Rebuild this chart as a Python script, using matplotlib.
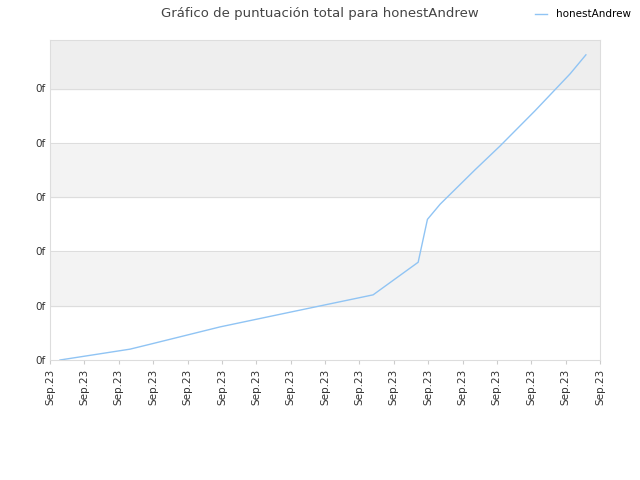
import matplotlib
matplotlib.use("Agg")
import matplotlib.pyplot as plt
from matplotlib.ticker import FuncFormatter

# values (x in tick steps, y in tick steps)
days = [0.29, 2.33, 2.91, 4.95, 6.98, 9.40, 10.71, 10.98, 11.35, 12.36, 13.09, 14.11, 15.13, 15.59]
score = [0.0, 0.2, 0.29, 0.61, 0.88, 1.20, 1.80, 2.59, 2.87, 3.50, 3.94, 4.59, 5.27, 5.62]
x_labels = ["Sep.23"] * 17
y_ticks = [0, 1, 2, 3, 4, 5]

fig = plt.figure(figsize=(6.4, 4.8), dpi=100)
ax = fig.add_axes([50 / 640, 120 / 480, 550 / 640, 320 / 480])

ymax = 320 / 54.3
band_colors = ["white", "#f3f3f3", "white", "#f3f3f3", "white", "#eeeeee"]
for i, c in enumerate(band_colors):
    ax.axhspan(i, min(i + 1, ymax), color=c, zorder=0)
for y in y_ticks[1:]:
    ax.axhline(y, color="#dddddd", lw=0.8, zorder=1)

ax.plot(days, score, color="#90c4f4", lw=1, label="honestAndrew", zorder=2)

ax.set_xlim(0, 16)
ax.set_ylim(0, ymax)
ax.set_xticks(range(17))
ax.set_xticklabels(x_labels, rotation=90, fontsize=7.5, color="#333333")
ax.set_yticks(y_ticks)
ax.yaxis.set_major_formatter(FuncFormatter(lambda v, p: "0f"))
ax.tick_params(axis="y", labelsize=7.5, colors="#333333", length=0)
ax.tick_params(axis="x", length=3, colors="#cccccc", labelcolor="#333333")
for s in ax.spines.values():
    s.set_color("#dddddd")

fig.suptitle("Gráfico de puntuación total para honestAndrew", x=0.5, y=0.985,
             fontsize=9.5, color="#444444")
fig.legend(loc="upper right", bbox_to_anchor=(1.0, 1.0), frameon=False, fontsize=7.5,
           handlelength=1.2)

fig.savefig("out.png", dpi=100)
